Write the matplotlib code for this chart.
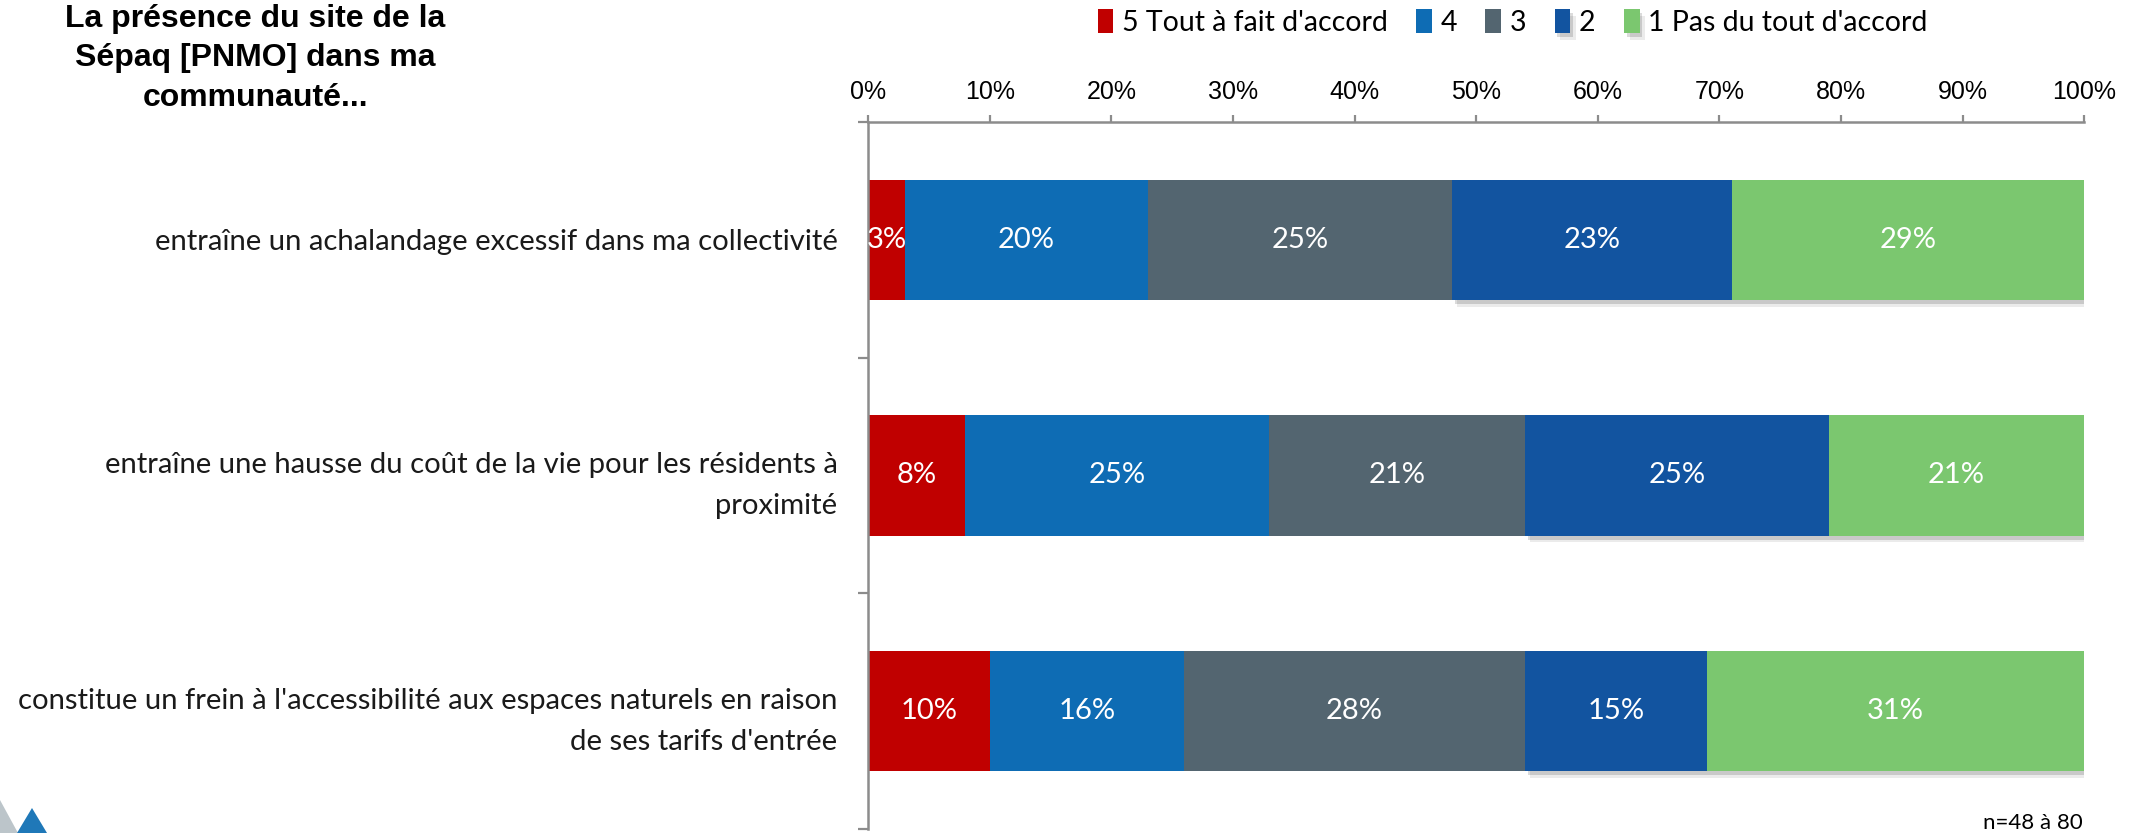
import numpy as np
import matplotlib.pyplot as plt
import matplotlib.patheffects as pe
from matplotlib.patches import Polygon

# Data
categories = [
    "entraîne un achalandage excessif dans ma collectivité",
    "entraîne une hausse du coût de la vie pour les résidents à\nproximité",
    "constitue un frein à l'accessibilité aux espaces naturels en raison\nde ses tarifs d'entrée",
]
series_names = ["5 Tout à fait d'accord", "4", "3", "2", "1 Pas du tout d'accord"]
values = np.array([
    [3, 20, 25, 23, 29],
    [8, 25, 21, 25, 21],
    [10, 16, 28, 15, 31],
])
x_ticks = [0, 10, 20, 30, 40, 50, 60, 70, 80, 90, 100]
title = "La présence du site de la\nSépaq [PNMO] dans ma\ncommunauté..."
note = "n=48 à 80"

colors = ["#C00000", "#0E6CB4", "#536570", "#1254A0", "#7BC76F"]
axis_grey = "#8C8C8C"
narrow = ["Lato", "DejaVu Sans"]

fig = plt.figure(figsize=(21.44, 8.33), dpi=100)
ax = fig.add_axes([0.4049, 0.005, 0.5672, 0.8485])

y = np.arange(len(categories))
left = np.zeros(len(categories))
for j, name in enumerate(series_names):
    effects = None
    if j >= 3:
        # soft drop shadow on the last two segments
        effects = [pe.SimplePatchShadow(offset=(4, -5), shadow_rgbFace="#000000", alpha=0.08),
                   pe.SimplePatchShadow(offset=(2, -3), shadow_rgbFace="#000000", alpha=0.14),
                   pe.Normal()]
    bars = ax.barh(y, values[:, j], left=left, height=0.51, color=colors[j],
                   label=name, zorder=2 if j < 3 else 3, path_effects=effects)
    for b, v in zip(bars, values[:, j]):
        ax.text(b.get_x() + b.get_width() / 2, b.get_y() + b.get_height() / 2, f"{v}%",
                ha="center", va="center", color="white", fontsize=21,
                family=narrow, zorder=5)
    left += values[:, j]

ax.set_xlim(0, 100)
ax.set_ylim(2.5, -0.5)

ax.xaxis.tick_top()
ax.set_xticks(x_ticks)
ax.set_xticklabels([f"{t}%" for t in x_ticks], fontsize=18, family="Liberation Sans")
ax.tick_params(axis="x", direction="out", length=5, width=1.6, color=axis_grey, pad=8)

ax.set_yticks(y)
ax.set_yticklabels(categories, fontsize=21.1, family=narrow, linespacing=1.72, color="#1a1a1a")
ax.tick_params(axis="y", which="major", length=0, pad=22)
ax.set_yticks([-0.5, 0.5, 1.5, 2.5], minor=True)
ax.tick_params(axis="y", which="minor", direction="out", length=7, width=1.6, color=axis_grey)

for s in ["right", "bottom"]:
    ax.spines[s].set_visible(False)
for s in ["top", "left"]:
    ax.spines[s].set_color(axis_grey)
    ax.spines[s].set_linewidth(1.8)

fig.legend(loc="center", bbox_to_anchor=(0.7055, 0.973), ncol=5, frameon=False,
           prop={"family": narrow, "size": 20.5}, handlelength=0.55, handleheight=0.9,
           handletextpad=0.3, columnspacing=1.0)

fig.text(0.119, 0.93, title, ha="center", va="center", fontsize=23,
         fontweight="bold", family="Liberation Sans", linespacing=1.42)
fig.text(0.948, 0.012, note, ha="center", va="center", fontsize=16, family=narrow)

# logo corner
h = 833.0
w = 2144.0
fig.patches.append(Polygon([[0 / w, 1 - 800 / h], [0 / w, 0], [18 / w, 0]], closed=True,
                           facecolor="#BCC5CA", edgecolor="none", transform=fig.transFigure, figure=fig))
fig.patches.append(Polygon([[32 / w, 1 - 808 / h], [17 / w, 0], [47 / w, 0]], closed=True,
                           facecolor="#1F78B8", edgecolor="none", transform=fig.transFigure, figure=fig))

fig.savefig("out.png", dpi=100)
